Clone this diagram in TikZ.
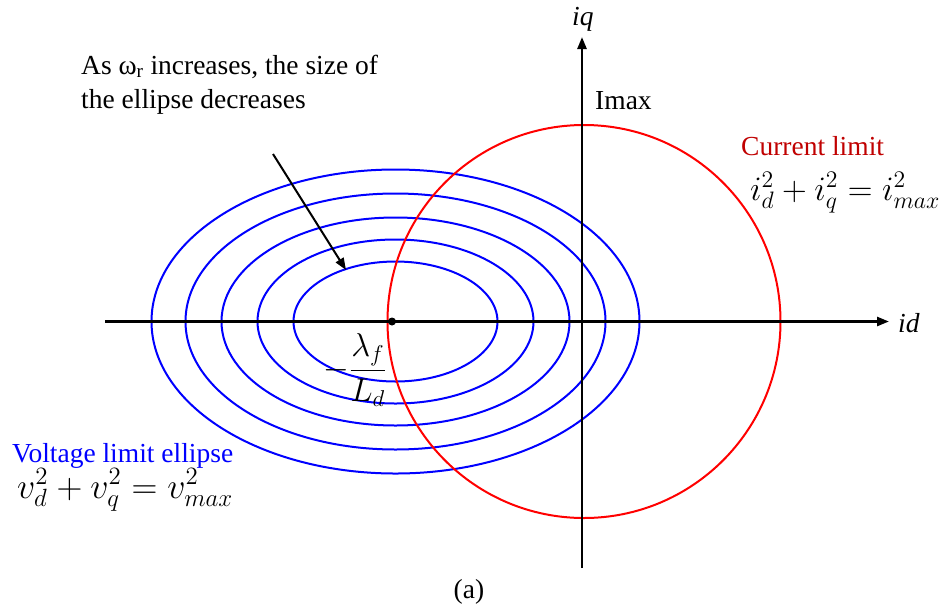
\documentclass[tikz,border=0pt]{standalone}
\usepackage{graphicx}
\usepackage{fontspec}
\setmainfont{Liberation Serif}
\newfontfamily\tnr{Liberation Serif}
\usetikzlibrary{arrows.meta}
\definecolor{curred}{RGB}{192,0,0}
\definecolor{vblue}{RGB}{0,0,255}
\definecolor{cred}{RGB}{255,0,0}
\begin{document}
\begin{tikzpicture}[x=1pt,y=-1pt,
  axis/.style={line width=2.5pt, -{Triangle[length=12pt,width=9pt]}},
  vell/.style={vblue, line width=2pt},
  ilim/.style={cred, line width=2pt},
  lbl/.style={inner sep=0pt, font=\tnr\fontsize{27.5}{34}\selectfont},
  mth/.style={inner sep=0pt, font=\fontsize{20.74}{25}\selectfont}]
\useasboundingbox (0,0) rectangle (947,614);
\coordinate (O) at (395.5,321.5);
\coordinate (C) at (584,321.5);
\coordinate (xs) at (105,321.5);
\coordinate (xe) at (889,321.5);
\coordinate (ys) at (582,568);
\coordinate (ye) at (582,37);
% voltage limit ellipses
\draw[vell] (O) ellipse [x radius=102, y radius=60];
\draw[vell] (O) ellipse [x radius=138, y radius=82];
\draw[vell] (O) ellipse [x radius=174, y radius=104];
\draw[vell] (O) ellipse [x radius=210, y radius=128];
\draw[vell] (O) ellipse [x radius=244, y radius=152];
% current limit circle
\draw[ilim] (C) circle [radius=196.5];
% axes
\draw[axis] (xs) -- (xe);
\draw[axis] (ys) -- (ye);
\node[circle, fill, inner sep=0pt, minimum size=8pt] (dot) at (392,321.5) {};
% annotation
\node[lbl, anchor=base west, align=left] (note) at (81,108)
  {As ω\textsubscript{r} increases, the size of\\the ellipse decreases};
\coordinate (as) at (273,154);
\coordinate (at) at (346,270);
\draw[line width=2pt, -{Triangle[length=12pt,width=9pt]}] (as) -- (at);
% labels
\node[lbl, anchor=base west] (iq) at (572,25) {\textit{iq}};
\node[lbl, anchor=base west] (imax) at (595,109) {Imax};
\node[lbl, anchor=base west] (id) at (898,332) {\textit{id}};
\node[lbl, anchor=base west, text=curred] (cl) at (741,155) {Current limit};
\node[mth, anchor=base west] (ceq) at (750,200) {\resizebox{190pt}{!}{$i_d^2+i_q^2=i_{max}^2$}};
\node[lbl, anchor=base west, text=vblue] (vl) at (12,462) {Voltage limit ellipse};
\node[mth, anchor=base west] (veq) at (17,498) {\resizebox{216pt}{!}{$v_d^2+v_q^2=v_{max}^2$}};
\node[mth] (frac) at (355,370) {\resizebox{64pt}{!}{$-\displaystyle\frac{\lambda_f}{L_d}$}};
\node[lbl] (cap) at (469,592) {(a)};
\end{tikzpicture}
\end{document}
